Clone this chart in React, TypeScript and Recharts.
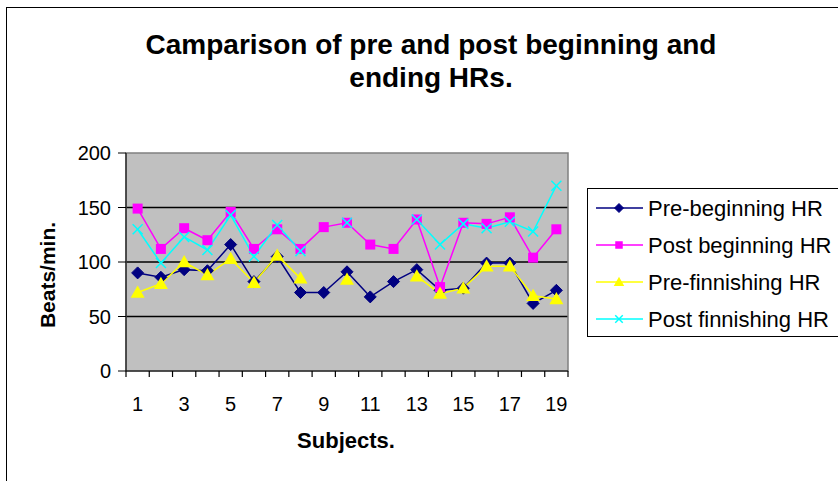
import React from 'react';
import { LineChart, Line, XAxis, YAxis, CartesianGrid, ReferenceArea } from 'recharts';

const subjects = [1, 2, 3, 4, 5, 6, 7, 8, 9, 10, 11, 12, 13, 14, 15, 16, 17, 18, 19];
const preBeginning = [90, 86, 93, 92, 116, 82, 105, 72, 72, 91, 68, 82, 93, 74, 76, 99, 99, 62, 74];
const postBeginning = [149, 112, 131, 120, 146, 112, 130, 112, 132, 136, 116, 112, 139, 77, 136, 135, 141, 104, 130];
const preFinishing = [72, 80, 100, 88, 103, 81, 106, 85, null, 84, null, null, 87, 71, 76, 96, 96, 69, 66];
const postFinishing = [130, 99, 123, 111, 143, 105, 134, 110, null, 136, null, null, 139, 116, 135, 131, 137, 128, 170];

const xTickLabels = [1, 3, 5, 7, 9, 11, 13, 15, 17, 19];
const yTicks = [0, 50, 100, 150, 200];
const gridValues = [50, 100, 150];

const data = subjects.map((s, i) => ({
  subject: s,
  preBeginning: preBeginning[i],
  postBeginning: postBeginning[i],
  preFinishing: preFinishing[i],
  postFinishing: postFinishing[i],
}));

const FONT = '"Liberation Sans", Arial, sans-serif';
const W = 838;
const H = 481;
const MARGIN = { top: 153, right: 270, bottom: 62, left: 0 };
const Y_AXIS_W = 126;
const X_AXIS_H = 48;
const PLOT_W = W - MARGIN.right - MARGIN.left - Y_AXIS_W;
const PLOT_LEFT = MARGIN.left + Y_AXIS_W;
const PLOT_BOTTOM = H - MARGIN.bottom - X_AXIS_H;

type Shape = 'diamond' | 'square' | 'triangle' | 'x';

const Marker = ({ shape, cx, cy, color, s = 1 }: { shape: Shape; cx: number; cy: number; color: string; s?: number }) => {
  if (shape === 'diamond') {
    const r = 6 * s;
    return <polygon points={`${cx},${cy - r} ${cx + r},${cy} ${cx},${cy + r} ${cx - r},${cy}`} fill={color} stroke={color} />;
  }
  if (shape === 'square') {
    const r = 5 * s;
    return <rect x={cx - r} y={cy - r} width={2 * r} height={2 * r} fill={color} />;
  }
  if (shape === 'triangle') {
    const r = 7 * s;
    return <polygon points={`${cx},${cy - r} ${cx + r},${cy + r * 0.75} ${cx - r},${cy + r * 0.75}`} fill={color} />;
  }
  const r = 5 * s;
  return (
    <g stroke={color} strokeWidth={1.5}>
      <line x1={cx - r} y1={cy - r} x2={cx + r} y2={cy + r} />
      <line x1={cx - r} y1={cy + r} x2={cx + r} y2={cy - r} />
    </g>
  );
};

const makeDot = (shape: Shape, color: string) => (props: any) => {
  const { cx, cy, index, value } = props;
  if (value == null || cy == null || isNaN(cy)) return <g key={`d-${index}`} />;
  return (
    <g key={`d-${index}`}>
      <Marker shape={shape} cx={cx} cy={cy} color={color} />
    </g>
  );
};

// labels only on every other subject
const SubjectTick = (props: any) => {
  const { x, y, payload, index } = props;
  if (!xTickLabels.includes(payload.value)) return <g key={`t-${index}`} />;
  return (
    <text key={`t-${index}`} x={x} y={y + 40} textAnchor="middle" fontSize={20} fontFamily={FONT} fill="#000">{payload.value}</text>
  );
};

const series: { key: string; name: string; color: string; shape: Shape }[] = [
  { key: 'preBeginning', name: 'Pre-beginning HR', color: '#000080', shape: 'diamond' },
  { key: 'postBeginning', name: 'Post beginning HR', color: '#FF00FF', shape: 'square' },
  { key: 'preFinishing', name: 'Pre-finnishing HR', color: '#FFFF00', shape: 'triangle' },
  { key: 'postFinishing', name: 'Post finnishing HR', color: '#00FFFF', shape: 'x' },
];

// Excel puts the category tick marks between the subjects
const boundaryXs = [0, ...subjects].map(k => PLOT_LEFT + (k * PLOT_W) / subjects.length);

export default function App() {
  return (
    <div style={{ position: 'absolute', left: 0, top: 0, width: W, height: H, background: '#fff', overflow: 'hidden', fontFamily: FONT }}>
      <div style={{ position: 'absolute', left: 6, top: 7, width: 900, height: 500, borderLeft: '1px solid #000', borderTop: '1px solid #000' }} />
      <div style={{ position: 'absolute', left: 0, top: 0 }}>
        <LineChart width={W} height={H} data={data} margin={MARGIN}>
          <CartesianGrid horizontalValues={gridValues} vertical={false} stroke="#000" strokeWidth={1.5} fill="#c0c0c0" />
          <ReferenceArea x1={0.5} x2={19.5} y1={0} y2={200} fill="none" stroke="#808080" strokeWidth={1.5} />
          <XAxis
            type="number"
            dataKey="subject"
            domain={[0.5, 19.5]}
            ticks={subjects}
            tick={SubjectTick}
            tickLine={false}
            tickSize={0}
            tickMargin={0}
            height={X_AXIS_H}
            stroke="#000"
            interval={0}
          />
          <YAxis
            type="number"
            domain={[0, 200]}
            ticks={yTicks}
            interval={0}
            width={Y_AXIS_W}
            tickSize={8}
            tickMargin={7}
            stroke="#000"
            tick={{ fill: '#000', fontSize: 20, fontFamily: FONT }}
          />
          {series.map(s => (
            <Line
              key={s.key}
              dataKey={s.key}
              name={s.name}
              stroke={s.color}
              strokeWidth={1.5}
              dot={makeDot(s.shape, s.color)}
              activeDot={false}
              connectNulls={false}
              isAnimationActive={false}
            />
          ))}
        </LineChart>
      </div>
      <svg width={W} height={H} style={{ position: 'absolute', left: 0, top: 0, pointerEvents: 'none' }}>
        <g stroke="#000" strokeWidth={1.2}>
          {boundaryXs.map((bx, i) => (
            <line key={i} x1={bx} x2={bx} y1={PLOT_BOTTOM} y2={PLOT_BOTTOM + 6} />
          ))}
        </g>
        <g fontFamily={FONT} fill="#000">
          <text x={431} y={54} fontSize={28} fontWeight="bold" textAnchor="middle">Camparison of pre and post beginning and</text>
          <text x={431} y={87} fontSize={28} fontWeight="bold" textAnchor="middle">ending HRs.</text>
          <text x={55} y={275} fontSize={21} fontWeight="bold" textAnchor="middle" transform="rotate(-90 55 275)">Beats/min.</text>
          <text x={346} y={448} fontSize={22} fontWeight="bold" textAnchor="middle">Subjects.</text>
        </g>
        <rect x={587.5} y={188.5} width={300} height={148} fill="#fff" stroke="#000" strokeWidth={1} />
        {series.map((s, i) => {
          const y = 208 + i * 37;
          return (
            <g key={s.key}>
              <line x1={596} x2={643} y1={y} y2={y} stroke={s.color} strokeWidth={1.5} />
              <Marker shape={s.shape} cx={619} cy={y} color={s.color} s={0.75} />
              <text x={648} y={y + 8} fontSize={22} fontFamily={FONT} fill="#000">{s.name}</text>
            </g>
          );
        })}
      </svg>
    </div>
  );
}
